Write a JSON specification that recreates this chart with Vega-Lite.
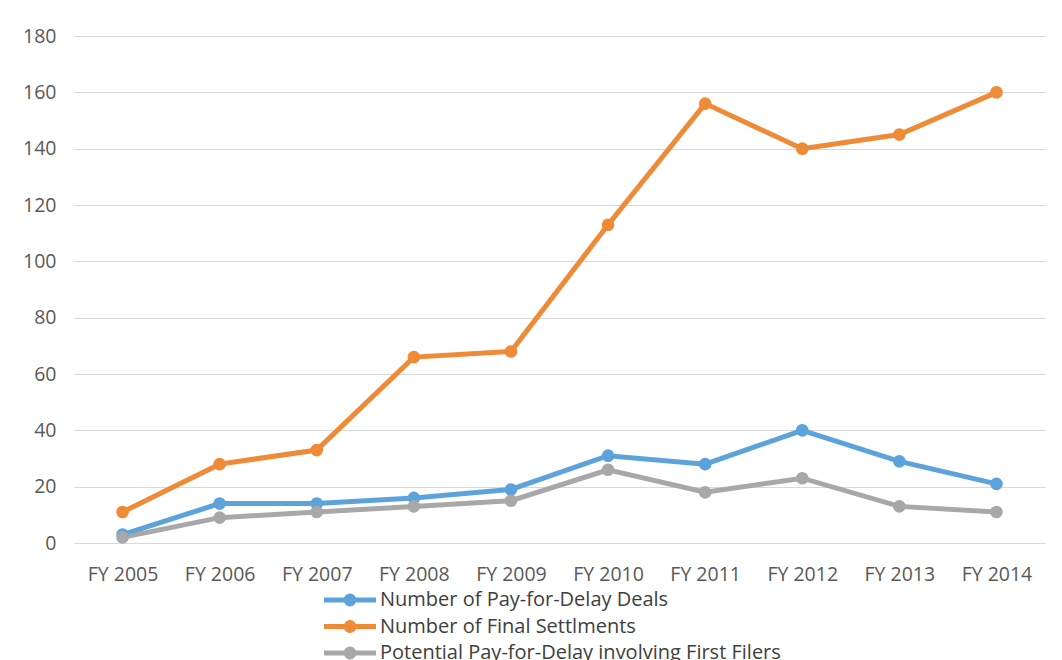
{
  "$schema": "https://vega.github.io/schema/vega-lite/v6.json",
  "width": 971,
  "height": 507,
  "autosize": {"type": "none"},
  "padding": {"left": 74, "top": 36, "right": 17, "bottom": 117},
  "background": "white",
  "config": {"font": "Open Sans", "view": {"stroke": null}},
  "data": {
    "values": [
      {"year": "FY 2005", "series": "Number of Pay-for-Delay Deals", "value": 3},
      {"year": "FY 2006", "series": "Number of Pay-for-Delay Deals", "value": 14},
      {"year": "FY 2007", "series": "Number of Pay-for-Delay Deals", "value": 14},
      {"year": "FY 2008", "series": "Number of Pay-for-Delay Deals", "value": 16},
      {"year": "FY 2009", "series": "Number of Pay-for-Delay Deals", "value": 19},
      {"year": "FY 2010", "series": "Number of Pay-for-Delay Deals", "value": 31},
      {"year": "FY 2011", "series": "Number of Pay-for-Delay Deals", "value": 28},
      {"year": "FY 2012", "series": "Number of Pay-for-Delay Deals", "value": 40},
      {"year": "FY 2013", "series": "Number of Pay-for-Delay Deals", "value": 29},
      {"year": "FY 2014", "series": "Number of Pay-for-Delay Deals", "value": 21},
      {"year": "FY 2005", "series": "Number of Final Settlments", "value": 11},
      {"year": "FY 2006", "series": "Number of Final Settlments", "value": 28},
      {"year": "FY 2007", "series": "Number of Final Settlments", "value": 33},
      {"year": "FY 2008", "series": "Number of Final Settlments", "value": 66},
      {"year": "FY 2009", "series": "Number of Final Settlments", "value": 68},
      {"year": "FY 2010", "series": "Number of Final Settlments", "value": 113},
      {"year": "FY 2011", "series": "Number of Final Settlments", "value": 156},
      {"year": "FY 2012", "series": "Number of Final Settlments", "value": 140},
      {"year": "FY 2013", "series": "Number of Final Settlments", "value": 145},
      {"year": "FY 2014", "series": "Number of Final Settlments", "value": 160},
      {"year": "FY 2005", "series": "Potential Pay-for-Delay involving First Filers", "value": 2},
      {"year": "FY 2006", "series": "Potential Pay-for-Delay involving First Filers", "value": 9},
      {"year": "FY 2007", "series": "Potential Pay-for-Delay involving First Filers", "value": 11},
      {"year": "FY 2008", "series": "Potential Pay-for-Delay involving First Filers", "value": 13},
      {"year": "FY 2009", "series": "Potential Pay-for-Delay involving First Filers", "value": 15},
      {"year": "FY 2010", "series": "Potential Pay-for-Delay involving First Filers", "value": 26},
      {"year": "FY 2011", "series": "Potential Pay-for-Delay involving First Filers", "value": 18},
      {"year": "FY 2012", "series": "Potential Pay-for-Delay involving First Filers", "value": 23},
      {"year": "FY 2013", "series": "Potential Pay-for-Delay involving First Filers", "value": 13},
      {"year": "FY 2014", "series": "Potential Pay-for-Delay involving First Filers", "value": 11}
    ]
  },
  "mark": {"type": "line", "strokeWidth": 5, "point": {"filled": true, "size": 160}},
  "encoding": {
    "x": {
      "field": "year",
      "type": "ordinal",
      "sort": null,
      "scale": {"padding": 0.5},
      "axis": {
        "title": null,
        "labelAngle": 0,
        "domain": false,
        "ticks": false,
        "grid": false,
        "labelFontSize": 19.5,
        "labelColor": "#595959",
        "labelPadding": 22
      }
    },
    "y": {
      "field": "value",
      "type": "quantitative",
      "scale": {"domain": [0, 180]},
      "axis": {
        "title": null,
        "values": [0, 20, 40, 60, 80, 100, 120, 140, 160, 180],
        "domain": false,
        "ticks": false,
        "labelFontSize": 19.5,
        "labelColor": "#595959",
        "labelPadding": 18,
        "gridColor": "#D9D9D9",
        "gridWidth": 1
      }
    },
    "color": {
      "field": "series",
      "type": "nominal",
      "sort": null,
      "scale": {
        "domain": ["Number of Pay-for-Delay Deals", "Number of Final Settlments", "Potential Pay-for-Delay involving First Filers"],
        "range": ["#5DA3DB", "#EF8A37", "#A8A8A8"]
      },
      "legend": {
        "title": null,
        "orient": "none",
        "legendX": 266,
        "legendY": 554,
        "direction": "vertical",
        "symbolType": "M-4.33,0L4.33,0M-0.65,0a0.65,0.65 0 1,0 1.3,0a0.65,0.65 0 1,0 -1.3,0",
        "symbolSize": 144,
        "symbolStrokeWidth": 5,
        "labelFontSize": 20,
        "labelColor": "#404040",
        "labelOffset": 20,
        "labelLimit": 0,
        "rowPadding": -1.5,
        "encode": {
          "symbols": {"update": {"fill": {"scale": "color", "field": "value"}}}
        }
      }
    }
  }
}
